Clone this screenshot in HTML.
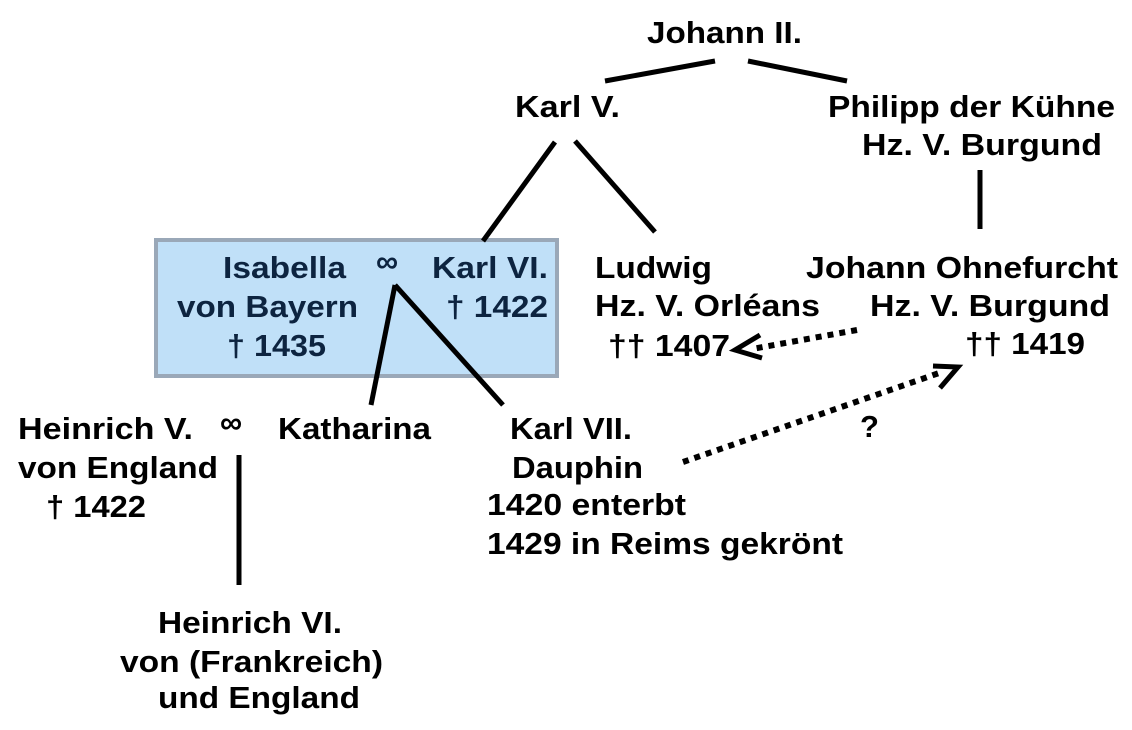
<!DOCTYPE html>
<html><head><meta charset="utf-8"><style>
html,body{margin:0;padding:0;background:#fff;}
svg{display:block;}
text{font-family:"Liberation Sans",sans-serif;font-weight:bold;font-size:31px;fill:#000;}
.b{fill:#0d2440;}
</style></head><body>
<svg width="1132" height="730" viewBox="0 0 1132 730" xmlns="http://www.w3.org/2000/svg">
<rect x="156" y="240" width="401" height="136" fill="#c0e0f8" stroke="#9aa8b8" stroke-width="4"/>
<g stroke="#000" stroke-width="5" stroke-linecap="butt" fill="none">
<line x1="605" y1="81" x2="715" y2="61"/>
<line x1="748" y1="61" x2="847" y2="81"/>
<line x1="555" y1="142" x2="483" y2="241"/>
<line x1="575" y1="141" x2="655" y2="232"/>
<line x1="980" y1="170" x2="980" y2="229"/>
<line x1="395" y1="285" x2="371" y2="405"/>
<line x1="395" y1="285" x2="503" y2="405"/>
<line x1="239" y1="455" x2="239" y2="585"/>
<line x1="857" y1="330" x2="752" y2="349" stroke-dasharray="6 6" stroke-width="6"/>
<polyline points="760,335 735,350 762,358"/>
<line x1="683" y1="462" x2="942" y2="372" stroke-dasharray="6 6" stroke-width="6"/>
<polyline points="933,366 958,367 940,388"/>
</g>
<text x="647" y="43" textLength="155" lengthAdjust="spacingAndGlyphs">Johann II.</text>
<text x="515" y="117" textLength="105" lengthAdjust="spacingAndGlyphs">Karl V.</text>
<text x="828" y="117" textLength="287" lengthAdjust="spacingAndGlyphs">Philipp der Kühne</text>
<text x="862" y="155" textLength="240" lengthAdjust="spacingAndGlyphs">Hz. V. Burgund</text>
<text class="b" x="223" y="278" textLength="123" lengthAdjust="spacingAndGlyphs">Isabella</text>
<text class="b" x="376" y="272" font-size="32">∞</text>
<text class="b" x="432" y="278" textLength="116" lengthAdjust="spacingAndGlyphs">Karl VI.</text>
<text class="b" x="177" y="317" textLength="181" lengthAdjust="spacingAndGlyphs">von Bayern</text>
<text class="b" x="446" y="317" textLength="102" lengthAdjust="spacingAndGlyphs">† 1422</text>
<text class="b" x="227" y="356" textLength="99" lengthAdjust="spacingAndGlyphs">† 1435</text>
<text x="595" y="278" textLength="117" lengthAdjust="spacingAndGlyphs">Ludwig</text>
<text x="595" y="316" textLength="225" lengthAdjust="spacingAndGlyphs">Hz. V. Orléans</text>
<text x="608" y="356" textLength="122" lengthAdjust="spacingAndGlyphs">†† 1407</text>
<text x="806" y="278" textLength="312" lengthAdjust="spacingAndGlyphs">Johann Ohnefurcht</text>
<text x="870" y="316" textLength="240" lengthAdjust="spacingAndGlyphs">Hz. V. Burgund</text>
<text x="965" y="354" textLength="120" lengthAdjust="spacingAndGlyphs">†† 1419</text>
<text x="18" y="439" textLength="175" lengthAdjust="spacingAndGlyphs">Heinrich V.</text>
<text x="220" y="433" font-size="32">∞</text>
<text x="278" y="439" textLength="153" lengthAdjust="spacingAndGlyphs">Katharina</text>
<text x="18" y="478" textLength="200" lengthAdjust="spacingAndGlyphs">von England</text>
<text x="46" y="517" textLength="100" lengthAdjust="spacingAndGlyphs">† 1422</text>
<text x="510" y="439" textLength="122" lengthAdjust="spacingAndGlyphs">Karl VII.</text>
<text x="512" y="478" textLength="131" lengthAdjust="spacingAndGlyphs">Dauphin</text>
<text x="487" y="515" textLength="199" lengthAdjust="spacingAndGlyphs">1420 enterbt</text>
<text x="487" y="554" textLength="356" lengthAdjust="spacingAndGlyphs">1429 in Reims gekrönt</text>
<text x="860" y="437" font-size="27">?</text>
<text x="158" y="633" textLength="184" lengthAdjust="spacingAndGlyphs">Heinrich VI.</text>
<text x="120" y="672" textLength="263" lengthAdjust="spacingAndGlyphs">von (Frankreich)</text>
<text x="158" y="708" textLength="202" lengthAdjust="spacingAndGlyphs">und England</text>
</svg>
</body></html>
